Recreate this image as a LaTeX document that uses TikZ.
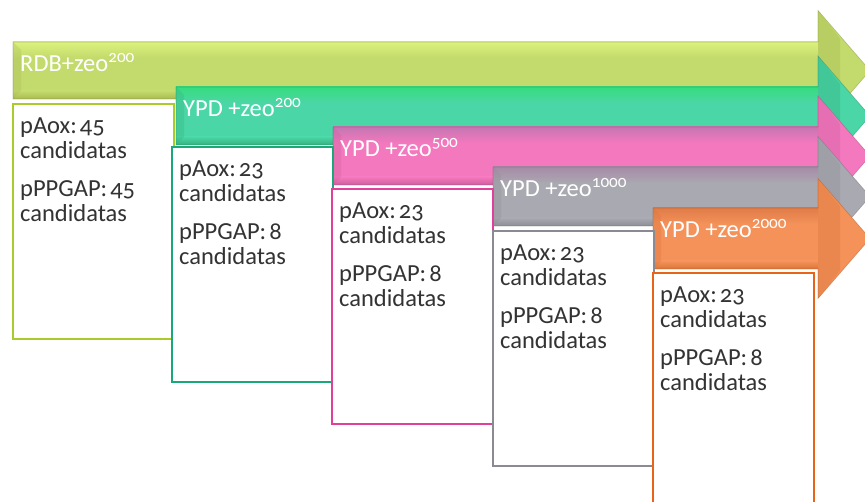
\documentclass[tikz,border=0pt]{standalone}
\usepackage{fontspec}
\setmainfont{Carlito}[Numbers=OldStyle]
\definecolor{aAt}{HTML}{DCF27E}\definecolor{aAm}{HTML}{C3DA6C}\definecolor{aAb}{HTML}{A8BA52}\definecolor{bA}{HTML}{A8CC2A}
\definecolor{aBt}{HTML}{38DC7E}\definecolor{aBm}{HTML}{4AD6A6}\definecolor{aBb}{HTML}{34B07E}\definecolor{bB}{HTML}{1AA878}
\definecolor{aCt}{HTML}{C476B2}\definecolor{aCm}{HTML}{F478BE}\definecolor{aCb}{HTML}{CC5E9C}\definecolor{bC}{HTML}{E0409A}
\definecolor{aDt}{HTML}{A88AA6}\definecolor{aDm}{HTML}{A9A9B1}\definecolor{aDb}{HTML}{8E8E96}\definecolor{bD}{HTML}{8A8A92}
\definecolor{aEt}{HTML}{E07C48}\definecolor{aEm}{HTML}{F4925A}\definecolor{aEb}{HTML}{DA7438}\definecolor{bE}{HTML}{E8641A}
\definecolor{txt}{HTML}{333333}
\begin{document}
\begin{tikzpicture}[x=1pt,y=-1pt,
  arrowfill/.style={fill=a#1m},
  arrowtop/.style={top color=a#1t, bottom color=a#1m},
  arrowbot/.style={top color=a#1m, bottom color=a#1b},
  arrowline/.style={draw=a#1b!75!black, draw opacity=0.45, line width=0.6pt},
  title/.style={anchor=base west, inner sep=0pt, text=white, font=\fontsize{24.5}{26}\selectfont},
  infobox/.style={draw=b#1, line width=1.8pt, fill=white, minimum width=161pt, minimum height=235pt, inner sep=0pt, anchor=north west},
  infotext/.style={anchor=north west, inner sep=0pt, text=txt, align=left, text width=152pt, font=\fontsize{24.5}{25}\selectfont}]
\useasboundingbox (0,0) rectangle (865,502);
\clip (0,0) rectangle (865,502);
% arrows
\foreach \c/\L/\T/\B/\lab in {A/13/42/99/{RDB+zeo\textsuperscript{200}},
                              B/176/87/145/{YPD +zeo\textsuperscript{200}},
                              C/333/127/185/{YPD +zeo\textsuperscript{500}},
                              D/493/167/226/{YPD +zeo\textsuperscript{1000}},
                              E/653/208/269/{YPD +zeo\textsuperscript{2000}}}{
  \pgfmathsetmacro{\M}{(\T+\B)/2}
  \fill[arrowfill=\c] (\L,\T) -- (818,\T) -- (818,\M-60) -- (870,\M) -- (818,\M+60) -- (818,\B) -- (\L,\B) -- cycle;
  \fill[arrowtop=\c] (\L,\T) rectangle (818,\T+16);
  \fill[arrowbot=\c] (\L,\B-8) rectangle (818,\B);
  \fill[a\c b, opacity=0.35] (818,\M-60) -- (840,\M-32) -- (840,\M+32) -- (818,\M+60) -- cycle;
  \fill[a\c b, opacity=0.3] (\L,\T) -- (\L+8,\T+8) -- (\L+8,\B-8) -- (\L,\B) -- cycle;
  \draw[arrowline=\c] (\L,\T) -- (818,\T) -- (818,\M-60) -- (870,\M) -- (818,\M+60) -- (818,\B) -- (\L,\B) -- cycle;
  \node[title] (t\c) at (\L+7,\T+30) {\lab};
}
% boxes
\foreach \c/\X/\Y/\a/\b in {A/12/103/45/45, B/171/146/23/8, C/331/188/23/8, D/492/230/23/8, E/652/272/23/8}{
  \node[infobox=\c] (b\c) at (\X,\Y) {};
  \node[infotext] (x\c) at (\X+8,\Y+15) {pAox:\hspace{3pt}\a\\candidatas\\[13pt]pPPGAP:\hspace{3pt}\b\\candidatas};
}
\end{tikzpicture}
\end{document}
